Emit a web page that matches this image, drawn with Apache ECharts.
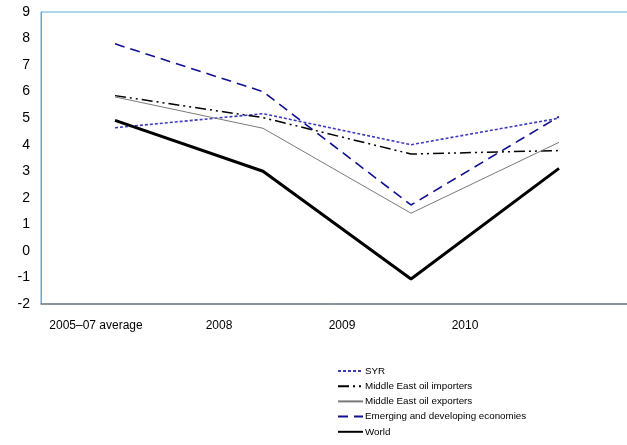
<!DOCTYPE html>
<html><head><meta charset="utf-8">
<script src="https://cdn.jsdelivr.net/npm/echarts@6/dist/echarts.min.js"></script>
<style>html,body{margin:0;padding:0;background:#fff}#c{width:627px;height:445px}</style>
</head><body><div id="c"></div>
<script>
const categories = ['2005–07 average', '2008', '2009', '2010'];
const syr = [4.64, 5.17, 4.0, 5.0];
const meImporters = [5.85, 5.02, 3.65, 3.78];
const meExporters = [5.8, 4.62, 1.42, 4.09];
const emerging = [7.8, 6.0, 1.73, 5.06];
const world = [4.92, 3.0, -1.06, 3.11];
const yTicks = { min: -2, max: 9, interval: 1 };

const font = 'Liberation Sans, Arial, sans-serif';
const chart = echarts.init(document.getElementById('c'));
chart.setOption({
  animation: false,
  backgroundColor: '#fff',
  grid: [
    { left: 41, top: 12, width: 592, height: 292, show: true, borderColor: '#62a9d9', borderWidth: 1, backgroundColor: 'transparent', containLabel: false, outerBoundsMode: 'none' },
    { left: 34.5, top: 12, width: 492, height: 292, show: false, containLabel: false, outerBoundsMode: 'none' }
  ],
  xAxis: [
    { type: 'category', gridIndex: 0, data: categories, boundaryGap: true,
      axisLine: { onZero: false, lineStyle: { color: '#808080', width: 1.5 } }, axisTick: { show: false }, axisLabel: { show: false }, splitLine: { show: false } },
    { type: 'category', gridIndex: 1, data: categories, boundaryGap: true,
      axisLine: { show: false, onZero: false }, axisTick: { show: false }, splitLine: { show: false },
      axisLabel: { show: true, margin: 16, color: '#000', fontSize: 12, fontFamily: font } }
  ],
  yAxis: [
    { type: 'value', gridIndex: 0, min: yTicks.min, max: yTicks.max, interval: yTicks.interval,
      axisLine: { show: true, lineStyle: { color: '#62a9d9' } }, axisTick: { show: false }, splitLine: { show: false },
      axisLabel: { margin: 11, color: '#000', fontSize: 14, fontFamily: font } },
    { type: 'value', gridIndex: 1, min: yTicks.min, max: yTicks.max, show: false }
  ],
  legend: {
    orient: 'vertical', left: 337, top: 365, padding: 0, itemGap: 3.2, itemWidth: 25, itemHeight: 12,
    itemStyle: { opacity: 0 },
    textStyle: { fontSize: 9.8, fontFamily: font, color: '#000', padding: [0, 0, 0, -3], lineHeight: 12 },
    data: ['SYR', 'Middle East oil importers', 'Middle East oil exporters', 'Emerging and developing economies', 'World']
  },
  series: [
    { name: 'SYR', type: 'line', data: syr, symbol: 'none', color: '#3c3cc0',
      lineStyle: { color: '#3c3cc0', width: 1.6, type: [3, 2] } },
    { name: 'Middle East oil importers', type: 'line', data: meImporters, symbol: 'none', color: '#000',
      lineStyle: { color: '#000', width: 1.5, type: [11, 4, 2, 4, 2, 4] } },
    { name: 'Middle East oil exporters', type: 'line', data: meExporters, symbol: 'none', color: '#7a7a7a',
      lineStyle: { color: '#7a7a7a', width: 1 } },
    { name: 'Emerging and developing economies', type: 'line', data: emerging, symbol: 'none', color: '#101090',
      lineStyle: { color: '#101090', width: 1.6, type: [10, 6] } },
    { name: 'World', type: 'line', data: world, symbol: 'none', color: '#000',
      lineStyle: { color: '#000', width: 3 } }
  ]
});
</script></body></html>
